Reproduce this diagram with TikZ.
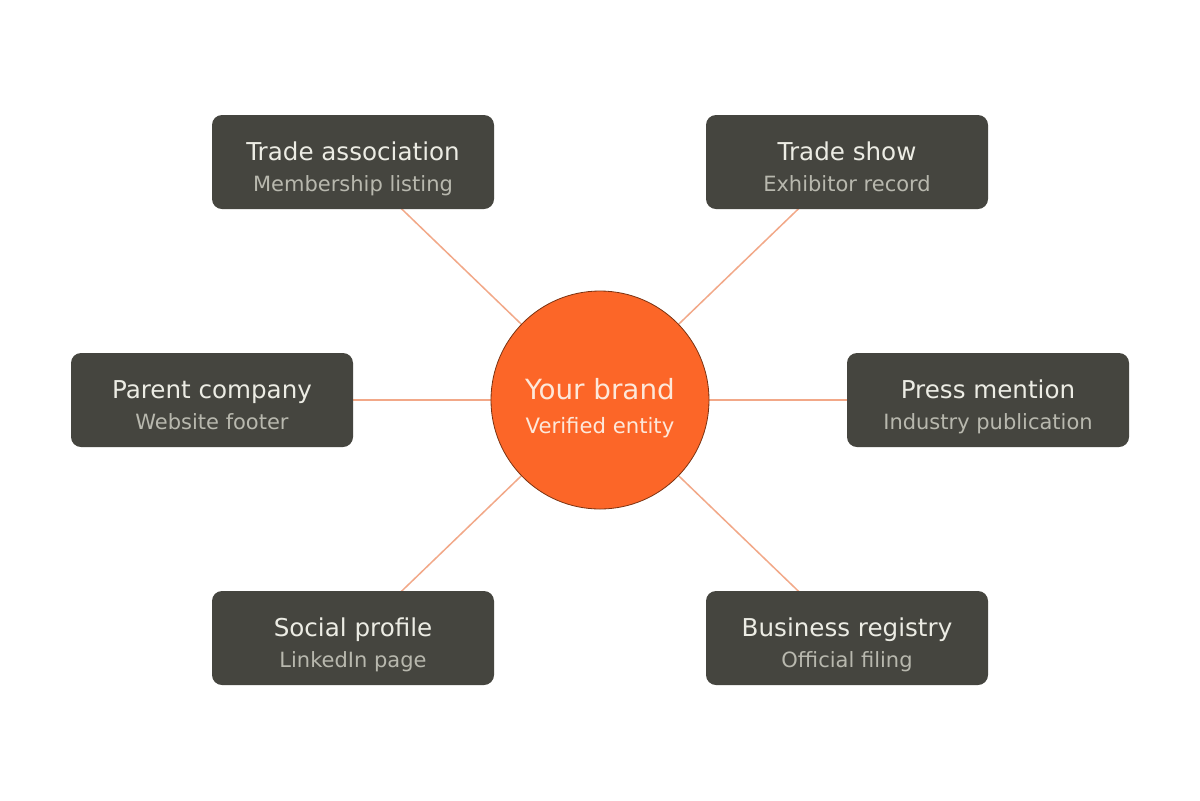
\documentclass[tikz,border=0pt]{standalone}
\usepackage{fontspec}
\setmainfont{DejaVu Sans}
\usetikzlibrary{calc,backgrounds}
\definecolor{boxfill}{HTML}{45453F}
\definecolor{ttlcol}{HTML}{ECECE4}
\definecolor{subcol}{HTML}{B8B8AE}
\definecolor{hubfill}{HTML}{FC6628}
\definecolor{hubedge}{HTML}{7A3312}
\definecolor{hubtxt}{HTML}{FDE8DA}
\definecolor{linkcol}{HTML}{F2A888}
\begin{document}
\begin{tikzpicture}[x=0.5pt,y=-0.5pt,
  box/.style={fill=boxfill,rounded corners=5pt,minimum width=141pt,minimum height=47pt,inner sep=0pt},
  ttl/.style={text=ttlcol,font=\fontsize{12.3}{14}\selectfont,anchor=base,inner sep=0pt},
  sub/.style={text=subcol,font=\fontsize{10.5}{12}\selectfont,anchor=base,inner sep=0pt},
  hub/.style={circle,fill=hubfill,draw=hubedge,line width=0.4pt,minimum size=109pt,inner sep=0pt},
  hubttl/.style={text=hubtxt,font=\fontsize{13.9}{16}\selectfont,anchor=base,inner sep=0pt},
  hubsub/.style={text=hubtxt,font=\fontsize{10.6}{12}\selectfont,anchor=base,inner sep=0pt},
  link/.style={draw=linkcol,line width=0.75pt}]
\useasboundingbox (0,0) rectangle (1200,800);
% nodes
\node[hub] (hub) at (600,400) {};
\node[box] (ta) at (353,162) {};
\node[box] (ts) at (847,162) {};
\node[box] (pc) at (212,400) {};
\node[box] (pm) at (988,400) {};
\node[box] (sp) at (353,638) {};
\node[box] (br) at (847,638) {};
% connectors (behind nodes)
\begin{scope}[on background layer]
\fill[white] (0,0) rectangle (1200,800);
\foreach \b in {ta,ts,pc,pm,sp,br}{
  \draw[link] (hub.center) -- (\b.center);
}
\end{scope}
% texts
\node[hubttl] (hub-t) at ($(hub.center)+(0,-1)$) {Your brand};
\node[hubsub] (hub-s) at ($(hub.center)+(0,33)$) {Verified entity};
\node[ttl] (ta-t) at ($(ta.center)+(0,-2)$) {Trade association};
\node[sub] (ta-s) at ($(ta.center)+(0,29)$) {Membership listing};
\node[ttl] (ts-t) at ($(ts.center)+(0,-2)$) {Trade show};
\node[sub] (ts-s) at ($(ts.center)+(0,29)$) {Exhibitor record};
\node[ttl] (pc-t) at ($(pc.center)+(0,-2)$) {Parent company};
\node[sub] (pc-s) at ($(pc.center)+(0,29)$) {Website footer};
\node[ttl] (pm-t) at ($(pm.center)+(0,-2)$) {Press mention};
\node[sub] (pm-s) at ($(pm.center)+(0,29)$) {Industry publication};
\node[ttl] (sp-t) at ($(sp.center)+(0,-2)$) {Social profile};
\node[sub] (sp-s) at ($(sp.center)+(0,29)$) {LinkedIn page};
\node[ttl] (br-t) at ($(br.center)+(0,-2)$) {Business registry};
\node[sub] (br-s) at ($(br.center)+(0,29)$) {Official filing};
\end{tikzpicture}
\end{document}
